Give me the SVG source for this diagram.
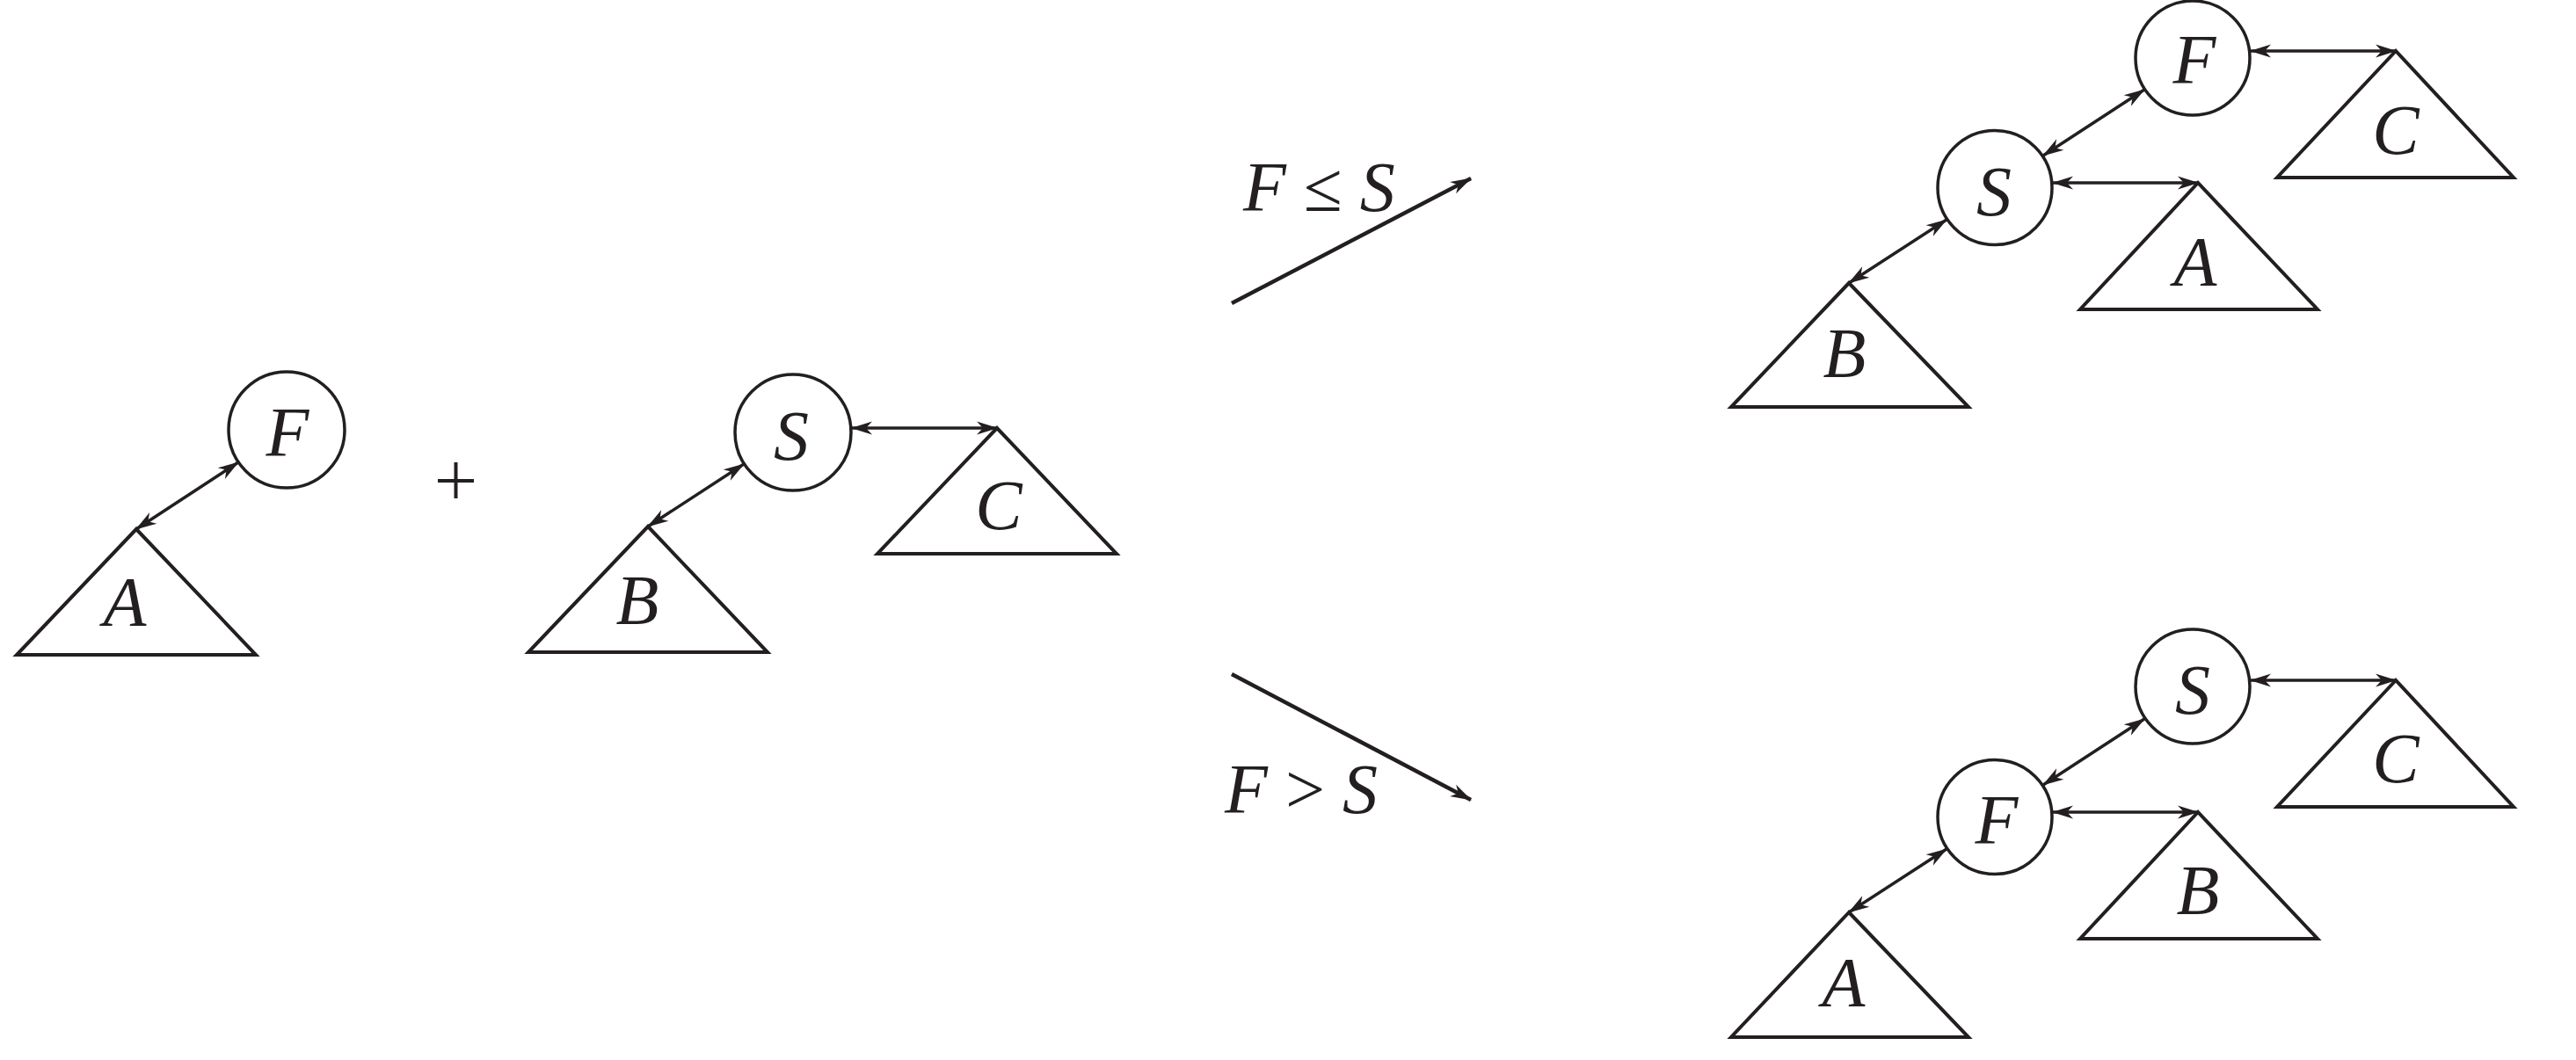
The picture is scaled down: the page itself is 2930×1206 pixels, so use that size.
<svg xmlns="http://www.w3.org/2000/svg" width="2930" height="1206" viewBox="0 0 2930 1206">
<style>
.bg{fill:#fff}
.tri{fill:none;stroke:#231f20;stroke-width:4;stroke-linejoin:miter}
.node{fill:#fff;stroke:#231f20;stroke-width:3.5}
.lbl{font-family:"Liberation Serif","Times New Roman",serif;font-style:italic;font-size:80px;fill:#231f20;text-anchor:middle}
.op{font-family:"Liberation Serif","Times New Roman",serif;font-size:80px;fill:#231f20}
.edge{fill:none;stroke:#231f20;stroke-width:3.5}
.main{fill:none;stroke:#231f20;stroke-width:4.5}
</style>
<defs>
<marker id="ah" markerUnits="userSpaceOnUse" markerWidth="28" markerHeight="20" viewBox="-25 -10 28 20" refX="0" refY="0" orient="auto-start-reverse">
<path d="M1,0 L-23,-7.5 L-16,0 L-23,7.5 Z" fill="#231f20"/>
</marker>
</defs>
<rect class="bg" x="0" y="0" width="2930" height="1206"/>

<g id="connectors">
<line class="edge" x1="155" y1="602" x2="271" y2="526" marker-start="url(#ah)" marker-end="url(#ah)"/>
<line class="edge" x1="737" y1="599" x2="846" y2="528" marker-start="url(#ah)" marker-end="url(#ah)"/>
<line class="edge" x1="969" y1="487" x2="1134" y2="487" marker-start="url(#ah)" marker-end="url(#ah)"/>

<line class="edge" x1="2439" y1="102" x2="2324" y2="177" marker-start="url(#ah)" marker-end="url(#ah)"/>
<line class="edge" x1="2560" y1="58" x2="2725" y2="58" marker-start="url(#ah)" marker-end="url(#ah)"/>
<line class="edge" x1="2335" y1="208" x2="2500" y2="208" marker-start="url(#ah)" marker-end="url(#ah)"/>
<line class="edge" x1="2214" y1="250" x2="2103" y2="322" marker-start="url(#ah)" marker-end="url(#ah)"/>

<line class="edge" x1="2439" y1="818" x2="2324" y2="893" marker-start="url(#ah)" marker-end="url(#ah)"/>
<line class="edge" x1="2560" y1="774" x2="2725" y2="774" marker-start="url(#ah)" marker-end="url(#ah)"/>
<line class="edge" x1="2335" y1="924" x2="2500" y2="924" marker-start="url(#ah)" marker-end="url(#ah)"/>
<line class="edge" x1="2214" y1="966" x2="2103" y2="1038" marker-start="url(#ah)" marker-end="url(#ah)"/>

<line class="main" x1="1401" y1="345" x2="1673" y2="203" marker-end="url(#ah)"/>
<line class="main" x1="1401" y1="767" x2="1673" y2="910" marker-end="url(#ah)"/>
</g>

<g id="left-F">
<circle class="node" cx="326" cy="489" r="66"/>
<text class="lbl" x="327" y="519">F</text>
</g>
<g id="left-A">
<polygon class="tri" points="155,602 19,745 291,745"/>
<text class="lbl" x="142" y="712">A</text>
</g>
<g id="plus">
<line x1="498" y1="547" x2="539" y2="547" stroke="#231f20" stroke-width="4"/>
<line x1="518.5" y1="526" x2="518.5" y2="567" stroke="#231f20" stroke-width="4"/>
</g>
<g id="left-S">
<circle class="node" cx="902" cy="492" r="66"/>
<text class="lbl" x="900" y="523">S</text>
</g>
<g id="left-B">
<polygon class="tri" points="737,599 601,742 873,742"/>
<text class="lbl" x="725" y="710">B</text>
</g>
<g id="left-C">
<polygon class="tri" points="1134,487 998,630 1270,630"/>
<text class="lbl" x="1136" y="602">C</text>
</g>

<g id="cond-le">
<text class="op" x="1414" y="240"><tspan font-style="italic">F</tspan> ≤ <tspan font-style="italic">S</tspan></text>
</g>
<g id="cond-gt">
<text class="op" x="1393" y="925"><tspan font-style="italic">F</tspan> &gt; <tspan font-style="italic">S</tspan></text>
</g>

<g id="tr-F">
<circle class="node" cx="2494" cy="66" r="65"/>
<text class="lbl" x="2496" y="95">F</text>
</g>
<g id="tr-S">
<circle class="node" cx="2269" cy="213.5" r="65"/>
<text class="lbl" x="2268" y="245">S</text>
</g>
<g id="tr-C">
<polygon class="tri" points="2725,58 2590,202 2859,202"/>
<text class="lbl" x="2725" y="175">C</text>
</g>
<g id="tr-A">
<polygon class="tri" points="2500,208 2366,352 2636,352"/>
<text class="lbl" x="2497" y="325">A</text>
</g>
<g id="tr-B">
<polygon class="tri" points="2103,322 1969,463 2239,463"/>
<text class="lbl" x="2098" y="429">B</text>
</g>

<g id="br-S">
<circle class="node" cx="2494" cy="781" r="65"/>
<text class="lbl" x="2494" y="812">S</text>
</g>
<g id="br-F">
<circle class="node" cx="2269" cy="929.5" r="65"/>
<text class="lbl" x="2271" y="960">F</text>
</g>
<g id="br-C">
<polygon class="tri" points="2725,774 2590,918 2859,918"/>
<text class="lbl" x="2725" y="890">C</text>
</g>
<g id="br-B">
<polygon class="tri" points="2500,924 2366,1068 2636,1068"/>
<text class="lbl" x="2500" y="1040">B</text>
</g>
<g id="br-A">
<polygon class="tri" points="2103,1038 1969,1180 2239,1180"/>
<text class="lbl" x="2097" y="1145">A</text>
</g>
</svg>
